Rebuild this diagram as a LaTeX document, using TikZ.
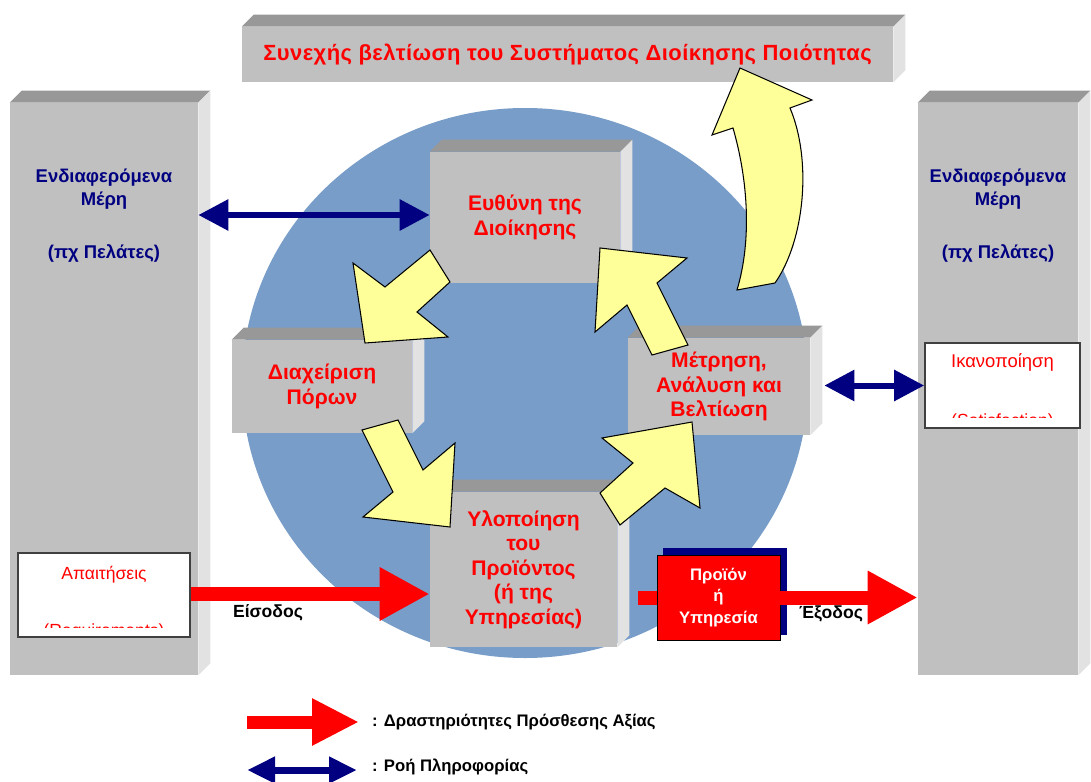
\documentclass[tikz,border=0pt]{standalone}
\usepackage{fontspec}
\setmainfont{Liberation Sans}
\usetikzlibrary{arrows.meta, positioning}

\definecolor{discblue}{RGB}{120,157,200}
\definecolor{facegray}{RGB}{192,192,192}
\definecolor{topgray}{RGB}{152,152,152}
\definecolor{sidegray}{RGB}{226,226,226}
\definecolor{paleyellow}{RGB}{255,255,153}
\definecolor{infonavy}{RGB}{0,0,128}

% top and right faces of a grey slab
\newcommand{\slabsides}[1]{%
  \fill[topgray] (#1.north west) -- ++(12,-12) -- ([shift={(12,-12)}]#1.north east) -- (#1.north east) -- cycle;
  \fill[sidegray] (#1.north east) -- ++(12,-12) -- ([shift={(12,-12)}]#1.south east) -- (#1.south east) -- cycle;}

\begin{document}
\begin{tikzpicture}[x=0.2mm, y=-0.2mm,
    slab/.style={fill=facegray, inner sep=0pt, align=center, text=red, font=\bfseries\fontsize{12}{14}\selectfont},
    stakelabel/.style={align=center, text=infonavy, font=\bfseries\fontsize{10.5}{13}\selectfont},
    whitebox/.style={draw=black!75, line width=1pt, fill=white, inner sep=0pt},
    cyclearrow/.style={fill=paleyellow, draw=black, line width=0.6pt},
    valueflow/.style={-{Triangle[length=10mm, width=10mm]}, red, line width=2.8mm},
    infoflow/.style={{Triangle[length=6mm, width=6mm]}-{Triangle[length=6mm, width=6mm]}, infonavy, line width=1.2mm},
    plain/.style={font=\bfseries\fontsize{10}{12}\selectfont}
]
    \useasboundingbox[fill=white] (0,0) rectangle (1091,782);

    \fill[discblue] (525,383) ellipse [x radius=283, y radius=275];

    \node[slab, minimum width=130.2mm, minimum height=11mm, font=\bfseries\fontsize{12.5}{14}\selectfont\addfontfeatures{LetterSpace=2}] (banner) at (567.5,54.5)
        {Συνεχής βελτίωση του Συστήματος Διοίκησης Ποιότητας};
    \slabsides{banner}

    \node[slab, minimum width=37.6mm, minimum height=114.4mm] (stakeL) at (104,389) {};
    \slabsides{stakeL}
    \node[slab, minimum width=32mm, minimum height=114.4mm] (stakeR) at (998,389) {};
    \slabsides{stakeR}

    \node[stakelabel, below=12mm of stakeL.north] (stakeLtxt) {Ενδιαφερόμενα\\Μέρη\\[6mm](πχ Πελάτες)};
    \node[stakelabel, below=12mm of stakeR.north] (stakeRtxt) {Ενδιαφερόμενα\\Μέρη\\[6mm](πχ Πελάτες)};

    \node[slab, minimum width=38mm, minimum height=26.2mm] (resp) at (525,217.5) {Ευθύνη της\\Διοίκησης};
    \slabsides{resp}
    \node[slab, minimum width=36mm, minimum height=18.6mm] (res) at (322,386.5) {Διαχείριση\\Πόρων};
    \slabsides{res}
    \node[slab, minimum width=36.4mm, minimum height=19.4mm] (meas) at (719,386.5) {Μέτρηση,\\Ανάλυση και\\Βελτίωση};
    \slabsides{meas}
    \node[slab, minimum width=37.4mm, minimum height=31mm] (impl) at (523.5,569.5) {Υλοποίηση\\του\\Προϊόντος\\(ή της\\Υπηρεσίας)};
    \slabsides{impl}

    % input and satisfaction boxes
    \node[whitebox, minimum width=34.4mm, minimum height=16.8mm] (req) at (104,595) {};
    \node[text=red, font=\fontsize{10}{12}\selectfont] (reqtxt) at (104,575) {Απαιτήσεις};
    \begin{scope}
        \clip (18,553) rectangle (190,627);
        \node[text=red, font=\fontsize{10}{12}\selectfont] (reqen) at (104,632) {(Requirements)};
    \end{scope}
    \node[whitebox, minimum width=31mm, minimum height=17mm] (sat) at (1002.5,385.5) {};
    \node[text=red, font=\fontsize{10.5}{12}\selectfont] (sattxt) at (1002.5,362) {Ικανοποίηση};
    \begin{scope}
        \clip (925,343) rectangle (1080,417);
        \node[text=red, font=\fontsize{10}{12}\selectfont] (saten) at (1002.5,422) {(Satisfaction)};
    \end{scope}

    % yellow cycle arrows
    \draw[cyclearrow] (353,263) -- (385,287) -- (430,250) -- (450,282) -- (417,312) -- (448,337) -- (365,343) -- cycle;
    \draw[cyclearrow] (362,430) -- (398,420) -- (423,470) -- (455,443) -- (450,527) -- (363,517) -- (393,492) -- cycle;
    \draw[cyclearrow] (700,508) -- (665,488) -- (620,525) -- (600,493) -- (633,463) -- (602,438) -- (692,422) -- cycle;
    \draw[cyclearrow] (688,345) -- (652,355) -- (627,305) -- (595,332) -- (600,248) -- (687,258) -- (657,283) -- cycle;
    \draw[cyclearrow] (740,68) -- (812,100) -- (790,108) .. controls (812,160) and (805,240) .. (775,283)
        -- (737,290) .. controls (752,240) and (748,180) .. (733,128) -- (712,135) -- cycle;

    % product box
    \fill[infonavy] (663,548) rectangle (787,635);
    \node[draw=black, fill=red, inner sep=0pt, minimum width=24.6mm, minimum height=17mm, align=center,
        text=white, font=\bfseries\fontsize{9.5}{12}\selectfont] (prod) at (718.5,597.5) {Προϊόν\\ή\\Υπηρεσία};

    % flows
    \draw[valueflow] (req.east |- 0,594) -- (impl.west |- 0,594);
    \draw[red, line width=2.8mm] ([xshift=12]impl.east |- prod.west) -- (prod.west);
    \coordinate (outtip) at (stakeR.west |- prod.east);
    \draw[valueflow] (prod.east) -- (outtip);
    \node[plain] (intxt) at (268,613) {Είσοδος};
    \node[plain] (outtxt) at (831,614) {Έξοδος};

    \draw[infoflow] (stakeL.east |- 0,215) -- (resp.west |- 0,215);
    \draw[infoflow] ([xshift=8]meas.east |- sat.west) -- (sat.west);

    % legend
    \coordinate (lgValA) at (247,722);
    \coordinate (lgValB) at (359,722);
    \coordinate (lgInfA) at (247,770);
    \coordinate (lgInfB) at (357,770);
    \draw[-{Triangle[length=9.4mm, width=8.8mm]}, red, line width=2.6mm] (lgValA) -- (lgValB);
    \draw[{Triangle[length=5.6mm, width=5mm]}-{Triangle[length=5.6mm, width=5mm]}, infonavy, line width=1.4mm] (lgInfA) -- (lgInfB);
    \node[plain, anchor=west, font=\bfseries\fontsize{9.5}{12}\selectfont] (lgValtxt) at (366,722) {: Δραστηριότητες Πρόσθεσης Αξίας};
    \node[plain, anchor=west, font=\bfseries\fontsize{9.5}{12}\selectfont] (lgInftxt) at (366,767) {: Ροή Πληροφορίας};
\end{tikzpicture}
\end{document}
